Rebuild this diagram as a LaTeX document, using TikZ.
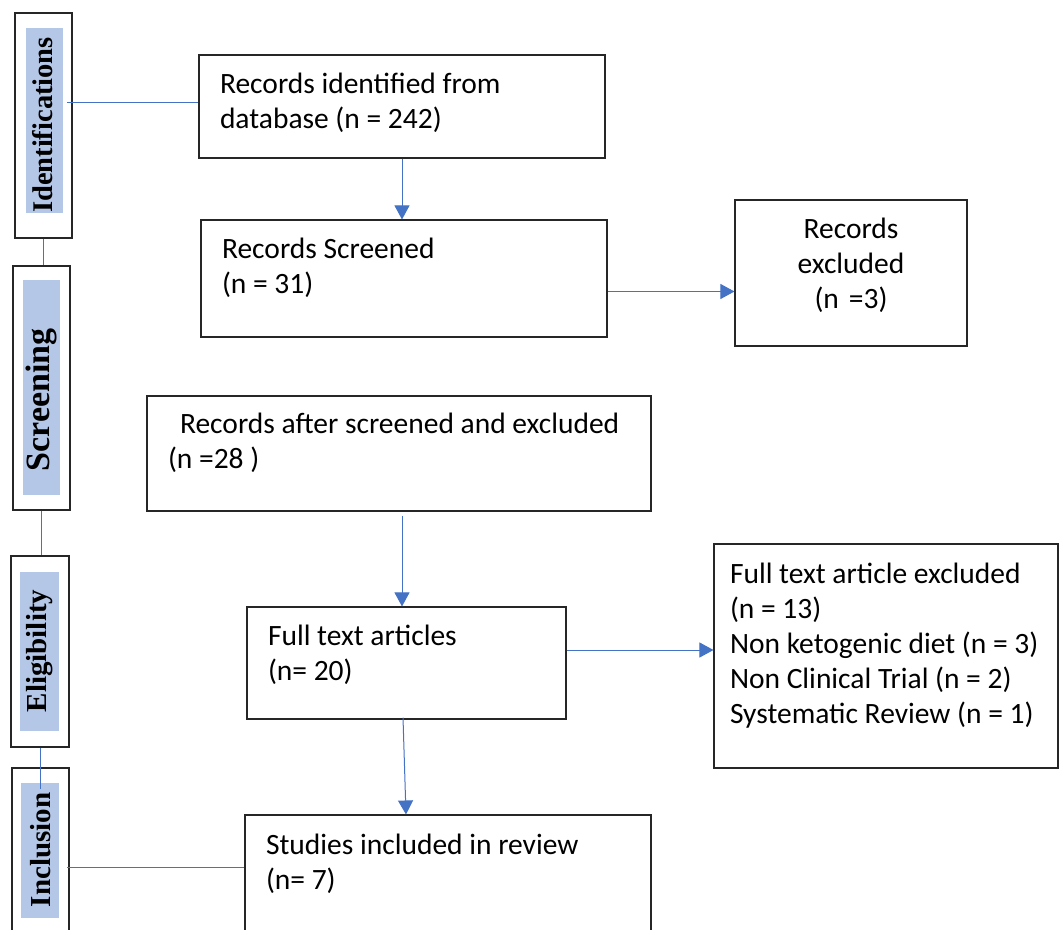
\documentclass[tikz,border=0pt]{standalone}
\usepackage{fontspec}
\setmainfont{Carlito}
\newfontfamily\phasefont{Liberation Serif}
\usetikzlibrary{arrows.meta}

\definecolor{linkblue}{HTML}{4472C4}
\definecolor{phaseblue}{HTML}{B4C7E7}
\definecolor{boxgray}{HTML}{262626}

\tikzset{
  recbox/.style={draw=boxgray, line width=1.1pt, inner xsep=21pt, inner ysep=0pt,
    align=left, text height=0pt, font=\fontsize{29.5}{35}\selectfont,
    execute at begin node={\spaceskip=0pt\xspaceskip=0pt}},
  phasebox/.style={draw=boxgray, line width=1.1pt, minimum width=57pt, inner sep=0pt},
  phaselbl/.style={rotate=90, inner sep=0pt, font=\phasefont\bfseries\fontsize{28.5}{30}\selectfont},
  link/.style={draw=linkblue, line width=1pt},
  flow/.style={link, -{Triangle[length=14pt,width=15pt]}},
}

\begin{document}
\begin{tikzpicture}[x=1pt, y=-1pt]

  \useasboundingbox (0,0) rectangle (1059,929);

  % phases on the left
  \node[phasebox, minimum height=225pt] (idbox) at (43.5,125.5) {};
  \fill[phaseblue] (26,28) rectangle (63,213);
  \node[phaselbl] (idlbl) at (43,125) {Identifications};

  \node[phasebox, minimum height=244pt] (scrbox) at (41.5,388) {};
  \fill[phaseblue] (23,280) rectangle (60,495);
  \node[phaselbl, font=\phasefont\bfseries\fontsize{34}{36}\selectfont] (scrlbl) at (41,400) {Screening};

  \node[phasebox, minimum width=58pt, minimum height=191pt] (eligbox) at (40,651.5) {};
  \fill[phaseblue] (20,572) rectangle (59,731);
  \node[phaselbl, font=\phasefont\bfseries\fontsize{29}{31}\selectfont] (eliglbl) at (40,651) {Eligibility};

  \node[phasebox, minimum height=182pt] (incbox) at (40.5,859) {};
  \fill[phaseblue] (21,783) rectangle (59,918);
  \node[phaselbl, font=\phasefont\bfseries\fontsize{29}{31}\selectfont] (inclbl) at (41,850) {Inclusion};

  \draw[link] (idbox.south) -- (idbox.south |- scrbox.north);
  \draw[link] (scrbox.south) -- (scrbox.south |- eligbox.north);
  \draw[link] (eligbox.south) -- ++(0,41);

  % records
  \node[recbox, text width=364pt, text depth=27pt, minimum height=103pt] (idrec) at (402,106.5)
    {Records identified from\\database (n = 242)};
  \node[recbox, text width=364pt, text depth=41pt, minimum height=117pt] (scrrec) at (404,278.5)
    {Records Screened\\(n = 31)};
  \node[recbox, align=center, text width=190pt, text depth=70pt, minimum height=146pt] (exclrec) at (851,273)
    {Records\\excluded\\(n =3)};
  \node[recbox, text width=462pt, text depth=41pt, minimum height=115pt] (afterrec) at (399,453.5)
    {\hspace*{12pt}Records after screened and excluded\\(n =28 )};
  \node[recbox, text width=277pt, text depth=36pt, minimum height=112pt] (fullrec) at (406.5,663)
    {Full text articles\\(n= 20)};
  \node[recbox, inner xsep=16pt, text width=312pt, text depth=146pt, minimum height=224pt] (fullexcl) at (886,656)
    {Full text article excluded\\(n = 13)\\Non ketogenic diet (n = 3)\\Non Clinical Trial (n = 2)\\Systematic Review (n = 1)};
  \node[recbox, text width=364pt, text depth=52pt, minimum height=130pt] (studyrec) at (448,880)
    {Studies included in review\\(n= 7)};

  % connectors
  \draw[link] (67,102) -- (67,102 -| idrec.west);
  \draw[link] (67,867) -- (67,867 -| studyrec.west);

  \draw[flow] (idrec.south) -- (idrec.south |- scrrec.north);
  \draw[flow] ([yshift=-13pt]scrrec.east) -- ([yshift=-13pt]scrrec.east -| exclrec.west);
  \draw[flow] ([xshift=3pt,yshift=-4pt]afterrec.south) -- ([xshift=3pt]afterrec.south |- fullrec.north);
  \draw[flow] ([yshift=13pt]fullrec.east) -- ([yshift=13pt]fullrec.east -| fullexcl.west);
  \draw[flow] ([xshift=-3.5pt,yshift=2pt]fullrec.south) -- ([xshift=-42pt]studyrec.north);

\end{tikzpicture}
\end{document}
